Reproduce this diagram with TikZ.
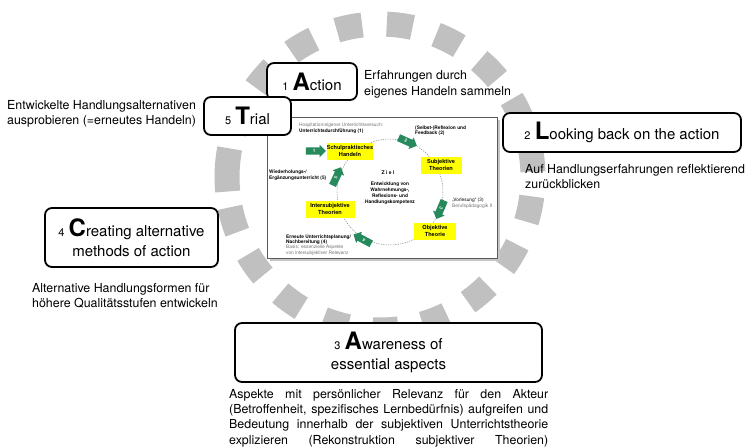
\documentclass[tikz,border=0pt]{standalone}
\usepackage{fontspec}
\setmainfont{TeX Gyre Heros}
\usetikzlibrary{shapes.arrows}

\definecolor{ringgray}{RGB}{192,192,192}
\definecolor{arrowgreen}{RGB}{38,138,92}
\definecolor{notegray}{RGB}{115,115,115}
\definecolor{hiyellow}{RGB}{255,255,0}
\definecolor{framegray}{RGB}{90,90,90}

\newcommand\fs[2]{\fontsize{#1}{#2}\selectfont}
\newcommand\stepno[1]{{\fs{11}{11}#1}}
\newcommand\capl[1]{{\fs{24}{24}\bfseries #1}}

\begin{document}
\begin{tikzpicture}[x=1pt,y=-1pt,
  stage/.style={draw=black, line width=1.8pt, rounded corners=7pt, fill=white,
    align=center, inner sep=0pt, font=\fs{15}{20}},
  note/.style={align=left, inner sep=0pt, font=\fs{12.4}{15.5}},
  ringblock/.style={draw=ringgray, line width=25pt},
  theory/.style={fill=hiyellow, align=center, inner sep=0pt, font=\fs{5.6}{7}\bfseries},
  tiny/.style={align=left, inner sep=0pt, anchor=west, font=\fs{4.8}{5.6}},
  greenarrow/.style={single arrow, fill=arrowgreen, text=white, inner sep=1.9pt,
    minimum height=20pt, single arrow head extend=2.6pt, font=\fs{4.5}{4.5}\bfseries},
]
\useasboundingbox (0,0) rectangle (746,447);
\fill[white] (0,0) rectangle (746,447);

% grey dashed ring made of separate blocks
\foreach \k in {0,...,18}{
  \pgfmathsetmacro\blockmid{18.947*\k-82.6}
  \ifnum\k=14
    \pgfmathsetmacro\blockstart{\blockmid-8.1}\def\blocklen{16.2}
  \else
    \pgfmathsetmacro\blockstart{\blockmid-4.85}\def\blocklen{9.7}
  \fi
  \draw[ringblock] (380,177) ++(\blockstart:153)
    arc[start angle=\blockstart, delta angle=\blocklen, radius=153];
}

% embedded cycle figure
\node[fill=gray!45, minimum width=230pt, minimum height=141pt, inner sep=0pt] (shotshadow) at (385,190.5) {};
\node[draw=framegray, line width=0.6pt, fill=white, minimum width=230pt, minimum height=141pt, inner sep=0pt] (shot) at (382,187.5) {};

\coordinate (cyc) at (390,192);
\draw[gray, line width=0.5pt, dash pattern=on 1.2pt off 1.2pt] (cyc) circle[radius=53];

\node[theory, minimum width=44pt, minimum height=17pt] (schul) at (350,151) {Schulpraktisches\\Handeln};
\node[theory, minimum width=41pt, minimum height=17pt] (subj) at (441,165) {Subjektive\\Theorien};
\node[theory, minimum width=42pt, minimum height=17pt] (obj) at (435,231) {Objektive\\Theorie};
\node[theory, minimum width=49pt, minimum height=17pt] (inter) at (330,209) {Intersubjektive\\Theorien};

\node[greenarrow] (a1) at (314,151) {1};
\node[greenarrow, rotate=-24] (a2) at (406,141) {2};
\node[greenarrow, rotate=-113] (a3) at (441,208) {3};
\node[greenarrow, rotate=152] (a4) at (364,240) {4};
\node[greenarrow, rotate=65] (a5) at (336,178) {5};

\node[tiny] (hosp) at (299,128.5) {{\color{notegray}Hospitation/eigener Unterrichtsversuch:}\\\bfseries Unterrichtsdurchführung (1)};
\node[tiny, font=\fs{4.8}{5.6}\bfseries] (refl) at (415,130.5) {(Selbst-)Reflexion und\\Feedback (2)};
\node[inner sep=0pt, font=\fs{5}{5}\bfseries] (ziel) at (388,173) {Z i e l};
\node[inner sep=0pt, align=center, font=\fs{4.8}{6}\bfseries] (entw) at (390,193) {Entwicklung von\\Wahrnehmungs-,\\Reflexions- und\\Handlungskompetenz};
\node[tiny, font=\fs{4.8}{5.8}\bfseries] (wied) at (269,175) {Wiederholungs-/\\Ergänzungsunterricht (5)};
\node[tiny] (vorl) at (452,203.5) {„Vorlesung“ (3)\\{\color{notegray}Berufspädagogik II}};
\node[tiny, font=\fs{4.8}{5.3}] (erneut) at (286,245) {\bfseries Erneute Unterrichtsplanung/\\\bfseries Nachbereitung (4)\\{\color{notegray}Basis: essenzielle Aspekte}\\{\color{notegray}von intersubjektiver Relevanz}};

% the five stages
\node[stage, minimum width=90pt, minimum height=37pt] (s1) at (312,81.5) {\stepno{1} \capl{A}ction};
\node[stage, minimum width=87pt, minimum height=38pt] (s5) at (247.5,116) {\stepno{5} \capl{T}rial};
\node[stage, minimum width=238pt, minimum height=39pt] (s2) at (622,132.5) {\stepno{2} \capl{L}ooking back on the action};
\node[stage, minimum width=173pt, minimum height=59pt] (s4) at (131.5,237.5) {\stepno{4} \capl{C}reating alternative\\methods of action};
\node[stage, minimum width=307pt, minimum height=59pt] (s3) at (388.5,352.5) {\stepno{3} \capl{A}wareness of\\essential aspects};

% explanations
\node[note, anchor=west] (n1) at (364,84.5) {Erfahrungen durch\\eigenes Handeln sammeln};
\node[note, anchor=west] (n5) at (7,114) {Entwickelte Handlungsalternativen\\ausprobieren (=erneutes Handeln)};
\node[note, anchor=west] (n2) at (525,176.5) {Auf Handlungserfahrungen reflektierend\\zurückblicken};
\node[note, anchor=west] (n4) at (32,296) {Alternative Handlungsformen für\\höhere Qualitätsstufen entwickeln};
\node[note, anchor=north west, font=\fs{12.4}{15.1}] (n3) at (229,389.5) {%
  \makebox[319pt][s]{Aspekte mit persönlicher Relevanz für den Akteur}\\
  \makebox[319pt][s]{(Betroffenheit, spezifisches Lernbedürfnis) aufgreifen und}\\
  \makebox[319pt][s]{Bedeutung innerhalb der subjektiven Unterrichtstheorie}\\
  \makebox[319pt][s]{explizieren (Rekonstruktion subjektiver Theorien)}};
\end{tikzpicture}
\end{document}
